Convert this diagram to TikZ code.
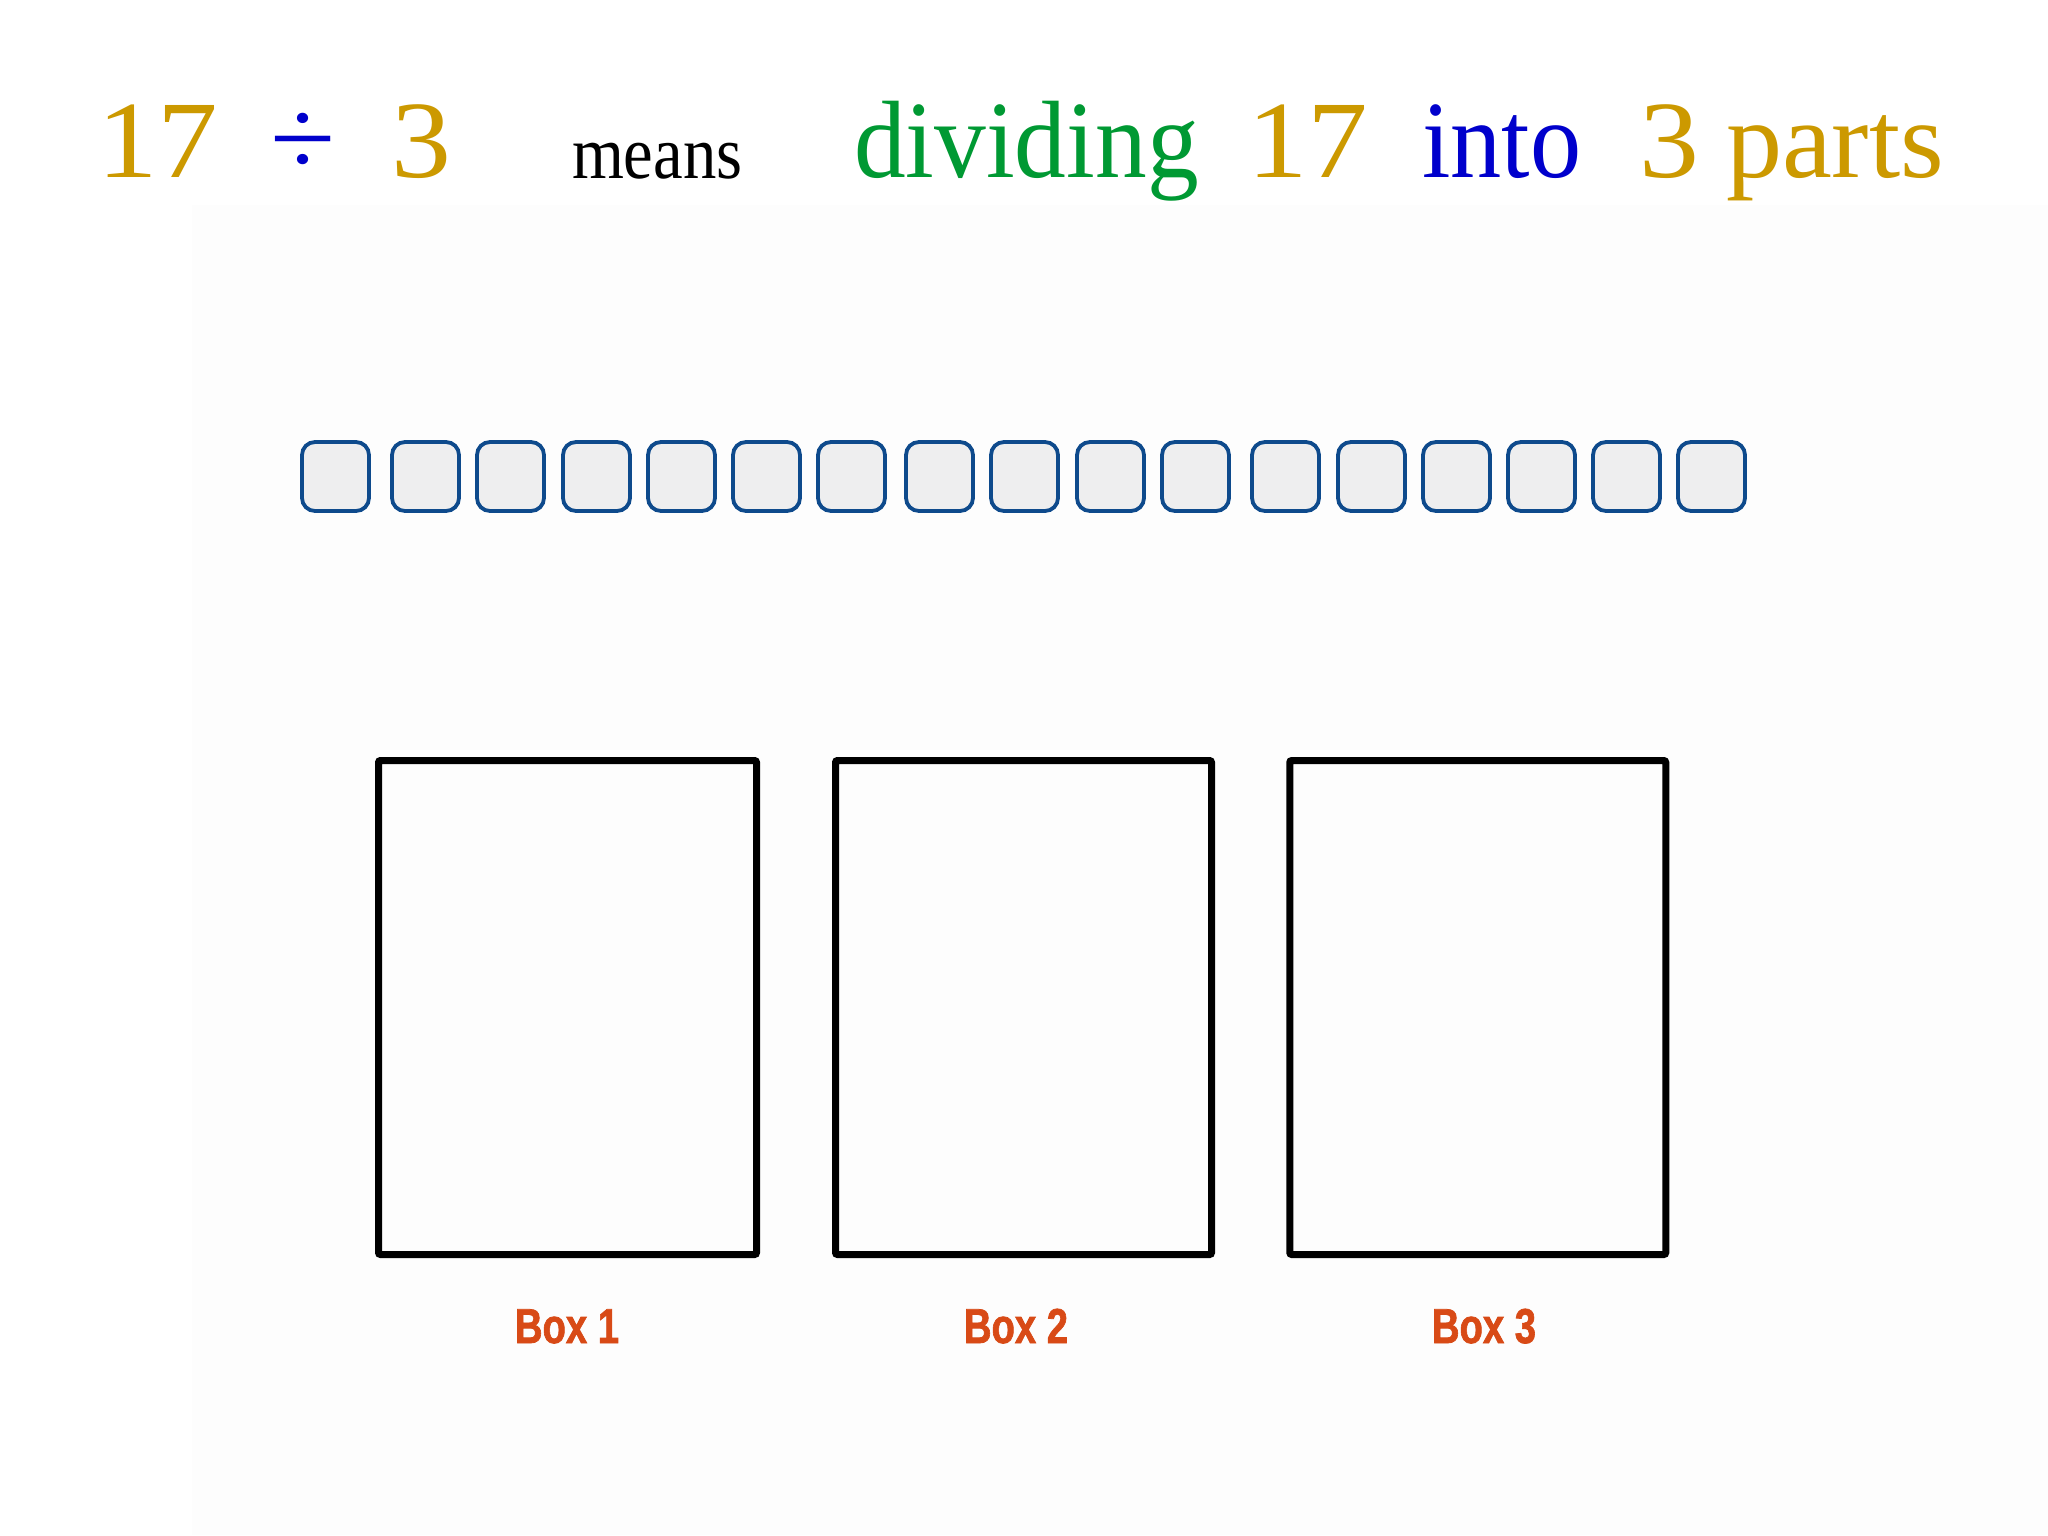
\documentclass[tikz,border=0pt]{standalone}
\usepackage{fontspec}
\usepackage{graphicx}
\setmainfont{Liberation Serif}
\newfontfamily\labelfont{Liberation Sans}[BoldFeatures={FakeBold=1.6}]
\definecolor{gold}{RGB}{204,153,0}
\definecolor{divgreen}{RGB}{0,153,51}
\definecolor{intoblue}{RGB}{0,0,204}
\definecolor{tileedge}{RGB}{14,74,140}
\definecolor{tilefill}{RGB}{238,238,239}
\definecolor{labred}{RGB}{216,74,22}
\definecolor{bgtint}{RGB}{253,253,253}
\begin{document}
\begin{tikzpicture}[x=1pt,y=-1pt,
  word/.style={anchor=base west, inner sep=0pt, outer sep=0pt},
  big/.style={font=\fontsize{110}{120}\selectfont},
  small/.style={font=\fontsize{75}{80}\selectfont},
  tilebox/.style={draw=tileedge, fill=tilefill, line width=3.8pt, rounded corners=13pt,
    minimum width=67pt, minimum height=69pt, inner sep=0pt},
  sharebox/.style={draw=black, line width=7pt, rounded corners=2pt, minimum height=494pt, inner sep=0pt},
  boxlabel/.style={anchor=base, inner sep=0pt, text=labred,
    font=\labelfont\bfseries\fontsize{49}{52}\selectfont}]
\useasboundingbox (0,0) rectangle (2048,1535);
\fill[white] (0,0) rectangle (2048,1535);
\fill[bgtint] (192,205) rectangle (2048,1535);
% title
\node[word,big,text=gold] (n17a) at (97,177) {\scalebox{1.1}[1]{17}};
\node[inner sep=0pt,big,text=intoblue] (div) at (303,144) {\scalebox{1.08}[1]{÷}};
\node[word,big,text=gold] (n3a) at (391,177) {\scalebox{1.09}[1]{3}};
\node[word,small,text=black] (means) at (572,178) {\scalebox{0.89}[1]{means}};
\node[word,big,text=divgreen] (dividing) at (854,177) {\scalebox{0.94}[1]{dividing}};
\node[word,big,text=gold] (n17b) at (1247,177) {\scalebox{1.1}[1]{17}};
\node[word,big,text=intoblue] (into) at (1422,177) {\scalebox{0.93}[1]{into}};
\node[word,big,text=gold] (n3b) at (1639,177) {\scalebox{1.09}[1]{3}};
\node[word,big,text=gold] (parts) at (1726,177) {\scalebox{1.02}[1]{parts}};
% tiles
\foreach \xl [count=\i] in {300,390,475,561,646,731,816,904,989,1075,1160,1250,1336,1421,1506,1591,1676}
  \node[tilebox] (tile\i) at (\xl+35.5,476.5) {};
% boxes
\node[sharebox, minimum width=378pt] (box1) at (567.5,1007.5) {};
\node[sharebox, minimum width=376pt] (box2) at (1023.5,1007.5) {};
\node[sharebox, minimum width=376pt] (box3) at (1477.75,1007.5) {};
% labels
\node[boxlabel] (lab1) at (567,1343) {\scalebox{0.78}[1]{Box 1}};
\node[boxlabel] (lab2) at (1016,1343) {\scalebox{0.78}[1]{Box 2}};
\node[boxlabel] (lab3) at (1484,1343) {\scalebox{0.78}[1]{Box 3}};
\end{tikzpicture}
\end{document}
